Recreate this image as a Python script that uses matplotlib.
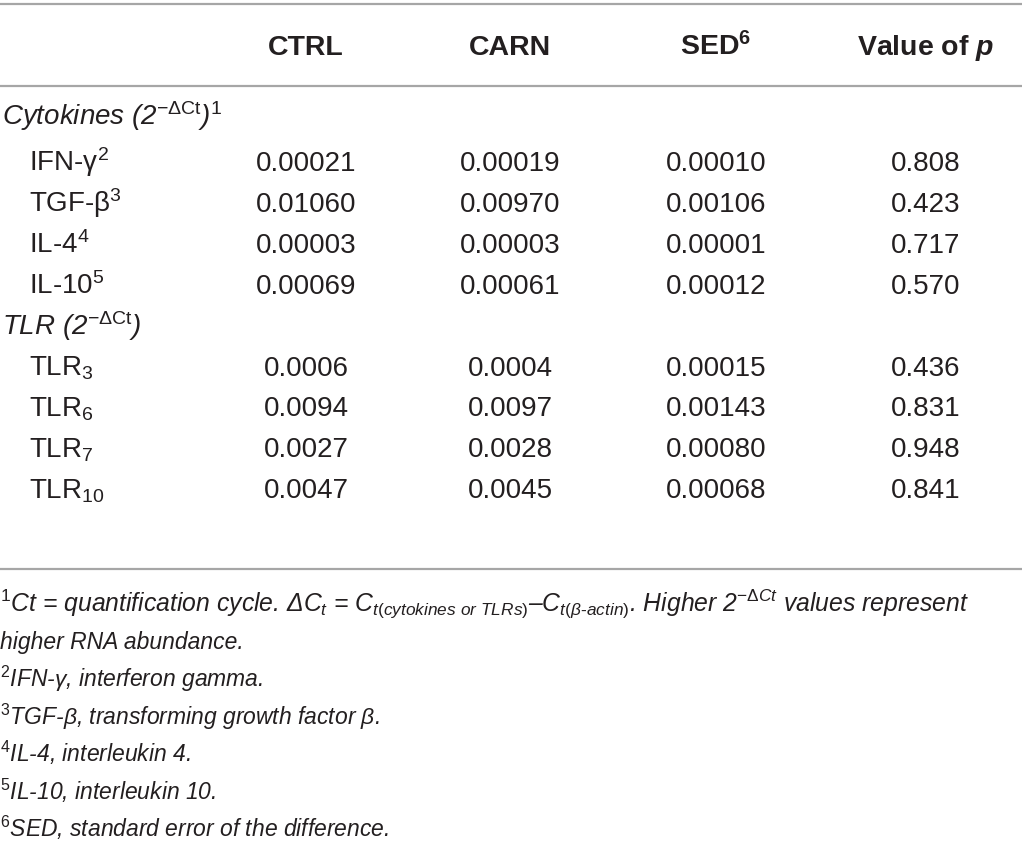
import matplotlib
matplotlib.use('Agg')
import matplotlib.pyplot as plt

plt.rcParams['font.family'] = ['Liberation Sans', 'DejaVu Sans']
plt.rcParams['mathtext.fontset'] = 'custom'
plt.rcParams['mathtext.rm'] = 'Liberation Sans'
plt.rcParams['mathtext.it'] = 'Liberation Sans:italic'
plt.rcParams['mathtext.bf'] = 'Liberation Sans:bold'
plt.rcParams['mathtext.bfit'] = 'Liberation Sans:italic:bold'
plt.rcParams['mathtext.sf'] = 'Liberation Sans'
plt.rcParams['text.color'] = '#231f20'

# table content
headers = ["CTRL", "CARN", r"SED$^{\mathbf{6}}$", r"Value of $\mathbfit{p}$"]

section_cyt = r"Cytokines (2$^{\mathrm{-\Delta Ct}}$)$^{\mathit{1}}$"
cyt_labels = [r"IFN-γ$^{2}$", r"TGF-β$^{3}$", r"IL-4$^{4}$", r"IL-10$^{5}$"]
cyt_ctrl = ["0.00021", "0.01060", "0.00003", "0.00069"]
cyt_carn = ["0.00019", "0.00970", "0.00003", "0.00061"]
cyt_sed = ["0.00010", "0.00106", "0.00001", "0.00012"]
cyt_p = ["0.808", "0.423", "0.717", "0.570"]

section_tlr = r"TLR (2$^{\mathrm{-\Delta Ct}}$)"
tlr_labels = [r"TLR$_{3}$", r"TLR$_{6}$", r"TLR$_{7}$", r"TLR$_{10}$"]
tlr_ctrl = ["0.0006", "0.0094", "0.0027", "0.0047"]
tlr_carn = ["0.0004", "0.0097", "0.0028", "0.0045"]
tlr_sed = ["0.00015", "0.00143", "0.00080", "0.00068"]
tlr_p = ["0.436", "0.831", "0.948", "0.841"]

footnotes = [
    r"$^{\mathit{1}}$Ct = quantification cycle. Δ$C_t$ = $C_{t(cytokines\ or\ TLRs)}$–$C_{t(\beta\text{-}actin)}$. Higher 2$^{-\Delta Ct}$ values represent",
    "higher RNA abundance.",
    r"$^{\mathit{2}}$IFN-$\gamma$, interferon gamma.",
    r"$^{\mathit{3}}$TGF-$\beta$, transforming growth factor $\beta$.",
    r"$^{\mathit{4}}$IL-4, interleukin 4.",
    r"$^{\mathit{5}}$IL-10, interleukin 10.",
    r"$^{\mathit{6}}$SED, standard error of the difference.",
]

fig = plt.figure(figsize=(10.22, 8.46), dpi=100)
ax = fig.add_axes([0, 0, 1, 1])
ax.set_xlim(0, 1022)
ax.set_ylim(846, 0)
ax.axis('off')

fs = 20
col_x = [306, 510, 716, 926]
rule_color = '#a6a6a6'

for y in [4, 86, 569]:
    ax.hlines(y, 0, 1022, color=rule_color, lw=1.6)

for x, h in zip(col_x, headers):
    ax.text(x, 55, h, ha='center', va='baseline', fontsize=20.5, fontweight='bold')

step = 40.9
y0 = 171
ax.text(2, 125, section_cyt, ha='left', va='baseline', fontsize=fs, style='italic')
for i, lab in enumerate(cyt_labels):
    y = y0 + i * step
    ax.text(29, y, lab, ha='left', va='baseline', fontsize=fs)
    for x, col in zip(col_x, [cyt_ctrl, cyt_carn, cyt_sed, cyt_p]):
        ax.text(x, y, col[i], ha='center', va='baseline', fontsize=fs)

ax.text(2, y0 + 4 * step, section_tlr, ha='left', va='baseline', fontsize=fs, style='italic')
for i, lab in enumerate(tlr_labels):
    y = y0 + (5 + i) * step
    ax.text(29, y, lab, ha='left', va='baseline', fontsize=fs)
    for x, col in zip(col_x, [tlr_ctrl, tlr_carn, tlr_sed, tlr_p]):
        ax.text(x, y, col[i], ha='center', va='baseline', fontsize=fs)

for i, note in enumerate(footnotes):
    size = 17.8 if i == 0 else 16.5
    ax.text(0, 612 + i * 37.5, note, ha='left', va='baseline', fontsize=size, style='italic')

fig.savefig('out.png', dpi=100)
